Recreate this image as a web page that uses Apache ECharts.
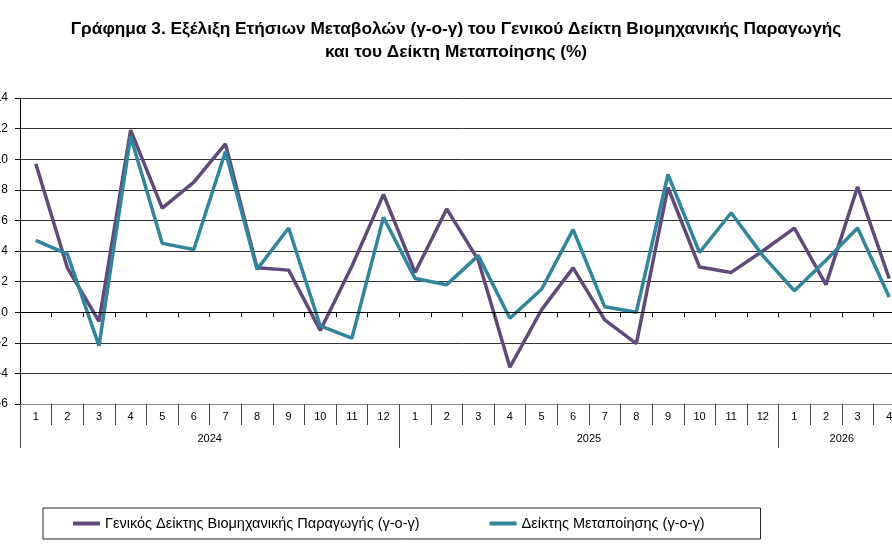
<!DOCTYPE html>
<html>
<head>
<meta charset="utf-8">
<title>Γράφημα 3</title>
<script src="https://cdn.jsdelivr.net/npm/echarts@6/dist/echarts.min.js"></script>
<style>
    html, body { margin: 0; padding: 0; overflow: hidden; background: #fff; }
    #chart { position: absolute; left: 0; top: 0; width: 930px; height: 557px; }
</style>
</head>
<body>
<div id="chart"></div>
<script>
// δεδομένα ===============================================================
var years = ['2024', '2025', '2026'];
var monthsPerYear = [12, 12, 4];
var months = [
    '1', '2', '3', '4', '5', '6', '7', '8', '9', '10', '11', '12',
    '1', '2', '3', '4', '5', '6', '7', '8', '9', '10', '11', '12',
    '1', '2', '3', '4'
];
// Γενικός Δείκτης Βιομηχανικής Παραγωγής (γ-ο-γ)
var generalIndex = [
    9.7, 2.9, -0.6, 11.9, 6.8, 8.5, 11.0, 2.9, 2.75, -1.2, 3.0, 7.7,
    2.6, 6.75, 3.4, -3.6, 0.15, 2.9, -0.5, -2.05, 8.15, 2.95, 2.6, 4.0,
    5.5, 1.8, 8.2, 2.2
];
// Δείκτης Μεταποίησης (γ-ο-γ)
var manufacturing = [
    4.7, 3.8, -2.2, 11.5, 4.5, 4.1, 10.5, 2.8, 5.5, -0.9, -1.7, 6.2,
    2.2, 1.8, 3.7, -0.4, 1.5, 5.4, 0.35, 0.0, 9.0, 3.9, 6.5, 3.7,
    1.4, 3.4, 5.5, 1.0
];
var seriesNames = [
    'Γενικός Δείκτης Βιομηχανικής Παραγωγής (γ-ο-γ)',
    'Δείκτης Μεταποίησης (γ-ο-γ)'
];
var yTicks = { min: -6, max: 14, interval: 2 };

// βοηθητικά ==============================================================
// όρια των ετών και κέντρα των ετικετών πάνω στον άξονα 0..N
function getYearMarks(counts) {
    var bounds = [0];
    var centers = [];
    var acc = 0;
    counts.forEach(function(c) {
        centers.push(acc + c / 2);
        acc += c;
        bounds.push(acc);
    });
    return { bounds: bounds, centers: centers, total: acc };
}

var FONT = 'Liberation Sans';
var marks = getYearMarks(monthsPerYear);

var chart = echarts.init(document.getElementById('chart'), null, { renderer: 'canvas' });
var option = {
    backgroundColor: '#fff',
    animation: false,
    title: {
        text: 'Γράφημα 3. Εξέλιξη Ετήσιων Μεταβολών (γ-ο-γ) του Γενικού Δείκτη Βιομηχανικής Παραγωγής\nκαι του Δείκτη Μεταποίησης (%)',
        left: 451,
        top: 13,
        textAlign: 'center',
        textStyle: {
            fontFamily: FONT,
            fontSize: 17.3,
            fontWeight: 'bold',
            color: '#000',
            lineHeight: 23
        }
    },
    legend: {
        data: seriesNames,
        left: 43,
        top: 508,
        padding: [8, 56, 8, 30],
        itemGap: 70,
        itemWidth: 27,
        itemHeight: 4,
        icon: 'rect',
        borderColor: '#222',
        borderWidth: 1,
        textStyle: { fontFamily: FONT, fontSize: 14.5, color: '#000' }
    },
    grid: {
        left: 20,
        top: 98,
        width: 885,
        height: 306,
        containLabel: false,
        outerBoundsMode: 'none'
    },
    xAxis: [
        {
            // άξονας στο μηδέν, μόνο μικρές υποδιαιρέσεις
            type: 'category',
            data: months,
            boundaryGap: true,
            axisLine: { onZero: true, lineStyle: { color: '#000', width: 1 } },
            axisTick: { show: true, length: 5, lineStyle: { color: '#000' } },
            axisLabel: { show: false },
            splitLine: { show: false },
            z: 5
        },
        {
            // μήνες στο κάτω μέρος
            type: 'category',
            data: months,
            position: 'bottom',
            boundaryGap: true,
            axisLine: { onZero: false, lineStyle: { color: '#888', width: 1 } },
            axisTick: { show: true, length: 21, interval: 0, lineStyle: { color: '#444' } },
            axisLabel: {
                interval: 0,
                margin: 7,
                fontFamily: FONT,
                fontSize: 11,
                color: '#000'
            }
        },
        {
            // έτη
            type: 'value',
            position: 'bottom',
            min: 0,
            max: marks.total,
            axisLine: { show: false, onZero: false },
            axisTick: {
                show: true,
                length: 44,
                customValues: marks.bounds,
                lineStyle: { color: '#444' }
            },
            axisLabel: {
                customValues: marks.centers,
                margin: 29,
                fontFamily: FONT,
                fontSize: 11,
                color: '#000',
                formatter: function(v) {
                    var i = marks.centers.indexOf(v);
                    return i >= 0 ? years[i] : '';
                }
            },
            splitLine: { show: false }
        }
    ],
    yAxis: {
        type: 'value',
        min: yTicks.min,
        max: yTicks.max,
        interval: yTicks.interval,
        axisLine: { show: true, lineStyle: { color: '#000', width: 1 } },
        axisTick: { show: true, length: 5, lineStyle: { color: '#000' } },
        axisLabel: { margin: 12, fontFamily: FONT, fontSize: 12, color: '#000' },
        splitLine: { show: true, lineStyle: { color: '#333', width: 1 } }
    },
    series: [
        {
            name: seriesNames[0],
            type: 'line',
            xAxisIndex: 0,
            data: generalIndex,
            symbol: 'none',
            color: '#604a7b',
            lineStyle: { width: 3.5, color: '#604a7b' },
            z: 3
        },
        {
            name: seriesNames[1],
            type: 'line',
            xAxisIndex: 0,
            data: manufacturing,
            symbol: 'none',
            color: '#31859c',
            lineStyle: { width: 3.5, color: '#31859c' },
            z: 4
        }
    ]
};

chart.setOption(option);
</script>
</body>
</html>
